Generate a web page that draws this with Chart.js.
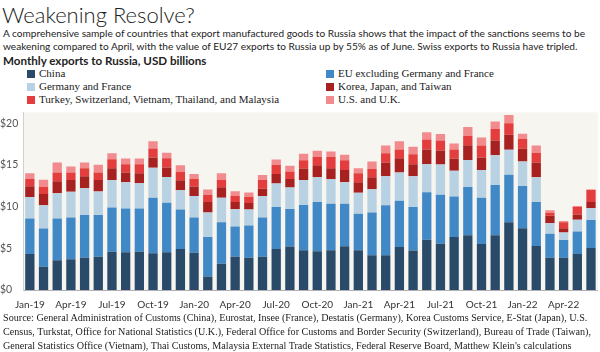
<!DOCTYPE html>
<html>
<head>
<meta charset="utf-8">
<script src="https://cdn.jsdelivr.net/npm/chart.js@4"></script>
<style>
	body { margin: 0; width: 600px; height: 352px; overflow: hidden; background: #fff; color: #222; position: relative; }
	#title { position: absolute; left: 2px; top: 1px; font: 300 22px Lato, sans-serif; color: #222; }
	#subtitle { position: absolute; left: 3px; top: 27px; font: 10.1px Lato, sans-serif; line-height: 13px; white-space: nowrap; }
	#heading { position: absolute; left: 3px; top: 54px; font: bold 11.6px Lato, sans-serif; }
	#legend { position: absolute; left: 27px; top: 67px; display: grid; grid-template-columns: 299px 260px; grid-auto-rows: 13px; font: 11px "Liberation Serif", serif; }
	#legend span.box { display: inline-block; width: 8px; height: 8px; margin-right: 4px; vertical-align: -0.5px; }
	#wrap { position: absolute; left: 0; top: 106px; width: 600px; height: 206px; }
	#source { position: absolute; left: 3px; top: 311px; font: 10.15px "Liberation Serif", serif; line-height: 14px; white-space: nowrap; }
</style>
</head>
<body>
<div id="title">Weakening Resolve?</div>
<div id="subtitle">A comprehensive sample of countries that export manufactured goods to Russia shows that the impact of the sanctions seems to be<br>weakening compared to April, with the value of EU27 exports to Russia up by 55% as of June. Swiss exports to Russia have tripled.</div>
<div id="heading">Monthly exports to Russia, USD billions</div>
<div id="legend"></div>
<div id="wrap"><canvas id="chart"></canvas></div>
<div id="source">Source: General Administration of Customs (China), Eurostat, Insee (France), Destatis (Germany), Korea Customs Service, E-Stat (Japan), U.S.<br>Census, Turkstat, Office for National Statistics (U.K.), Federal Office for Customs and Border Security (Switzerland), Bureau of Trade (Taiwan),<br>General Statistics Office (Vietnam), Thai Customs, Malaysia External Trade Statistics, Federal Reserve Board, Matthew Klein's calculations</div>
<script>
var months = [
	"Jan-19","Feb-19","Mar-19","Apr-19","May-19","Jun-19","Jul-19","Aug-19","Sep-19","Oct-19","Nov-19","Dec-19",
	"Jan-20","Feb-20","Mar-20","Apr-20","May-20","Jun-20","Jul-20","Aug-20","Sep-20","Oct-20","Nov-20","Dec-20",
	"Jan-21","Feb-21","Mar-21","Apr-21","May-21","Jun-21","Jul-21","Aug-21","Sep-21","Oct-21","Nov-21","Dec-21",
	"Jan-22","Feb-22","Mar-22","Apr-22","May-22","Jun-22"
];

var china = [4.33,2.8,3.58,3.7,3.86,3.98,4.57,4.53,4.57,4.41,4.53,4.92,4.45,1.61,3.15,3.98,3.86,3.98,4.92,5.2,4.76,4.65,4.76,5.24,4.76,4.17,4.17,5.16,4.72,6.02,5.55,6.34,6.57,5.51,6.57,8.11,7.4,5.28,3.86,3.86,4.33,5.04];
var eu_other = [4.25,4.56,5.0,5.0,5.12,5.0,5.31,5.23,5.19,6.65,5.94,4.73,4.25,4.73,4.96,3.62,3.86,4.72,5.04,4.52,5.44,5.9,5.59,5.11,4.37,5.12,5.99,5.55,5.24,5.71,5.87,4.88,5.79,5.55,6.03,5.71,5.08,5.27,2.87,2.12,2.68,3.35];
var germany_france = [2.56,2.8,3.03,3.07,3.22,2.82,3.31,3.15,3.04,3.59,3.07,2.32,2.56,2.95,2.95,2.09,1.93,2.56,2.8,2.56,2.99,2.95,2.92,2.56,2.52,2.8,3.46,3.38,3.66,3.35,3.62,3.07,3.23,3.31,3.54,2.99,2.91,2.95,1.26,0.91,1.42,1.45];
var korea_japan_taiwan = [1.3,1.34,1.42,1.42,1.42,1.39,1.41,1.18,1.2,1.22,1.15,1.18,1.14,1.26,1.26,0.86,0.78,0.87,1.14,1.02,1.38,1.46,1.33,1.46,1.26,1.41,1.66,1.7,1.46,1.77,1.69,1.46,1.77,1.5,1.77,1.81,1.54,1.78,0.91,0.51,0.63,0.71];
var turkey_etc = [0.86,0.86,1.06,0.9,0.98,0.9,1.07,0.99,1.08,1.1,1.1,1.02,0.9,0.87,0.91,0.71,0.71,1.06,1.1,0.91,0.98,1.02,1.34,1.18,1.07,0.99,1.1,1.06,1.18,1.18,1.18,1.1,1.14,1.45,1.38,1.38,1.18,1.18,0.35,0.71,0.9,1.46];
var us_uk = [0.7,0.87,1.19,0.71,0.68,0.91,0.71,0.67,0.67,0.86,0.67,0.79,0.6,0.63,0.75,0.59,0.55,0.59,0.63,0.67,0.79,0.71,0.67,0.67,0.62,0.9,0.94,0.98,0.91,0.87,0.79,0.71,1.03,0.95,0.91,0.98,0.63,0.86,0.32,0.16,0.12,0.04];

var y_ticks = [0, 5, 10, 15, 20];

var series = [
	{ label: "China", data: china, color: "#2a4a69" },
	{ label: "EU excluding Germany and France", data: eu_other, color: "#4189c6" },
	{ label: "Germany and France", data: germany_france, color: "#b8d2e3" },
	{ label: "Korea, Japan, and Taiwan", data: korea_japan_taiwan, color: "#a82121" },
	{ label: "Turkey, Switzerland, Vietnam, Thailand, and Malaysia", data: turkey_etc, color: "#e33d3d" },
	{ label: "U.S. and U.K.", data: us_uk, color: "#f28b8d" }
];

//legend i html
var legend_html = "";
series.forEach(function(s){
	legend_html += '<div><span class="box" style="background:'+ s.color +'"></span>'+ s.label +'</div>';
});
document.getElementById("legend").innerHTML = legend_html;

//bakgrund i plotytan
var plot_bg = {
	id: "plot_bg",
	beforeDraw: function(chart){
		var a = chart.chartArea;
		var ctx = chart.ctx;
		ctx.save();
		ctx.fillStyle = "#f7f5f0";
		ctx.fillRect(a.left, a.top, a.right - a.left, a.bottom - a.top);
		ctx.restore();
	}
};

new Chart(document.getElementById("chart"), {
	type: "bar",
	data: {
		labels: months,
		datasets: series.map(function(s){
			return {
				label: s.label,
				data: s.data,
				backgroundColor: s.color,
				borderWidth: 0,
				categoryPercentage: 1,
				barPercentage: 0.68
			};
		})
	},
	options: {
		responsive: true,
		maintainAspectRatio: false,
		animation: false,
		layout: { padding: { top: 3, right: 0, left: 0, bottom: 0 } },
		plugins: {
			legend: { display: false },
			tooltip: { enabled: false }
		},
		scales: {
			x: {
				stacked: true,
				grid: { display: false, drawTicks: false },
				border: { display: true, color: "#b0b0b0" },
				ticks: {
					autoSkip: false,
					maxRotation: 0,
					padding: 9,
					color: "#333",
					font: { family: "Lato", size: 10 },
					callback: function(v, i){ return i % 3 === 0 ? months[i] : ""; }
				},
				afterFit: function(scale){ scale.height = 22; }
			},
			y: {
				stacked: true,
				min: 0,
				max: 21.3,
				grid: { display: false, drawTicks: false },
				border: { display: true, color: "#d0d0d0" },
				ticks: {
					crossAlign: "far",
					padding: 0,
					color: "#555",
					font: { family: "Lato", size: 10.5 },
					callback: function(v){ return "$" + v; }
				},
				afterBuildTicks: function(scale){
					scale.ticks = y_ticks.map(function(v){ return { value: v }; });
				},
				afterFit: function(scale){ scale.width = 23; }
			}
		}
	},
	plugins: [plot_bg]
});
</script>
</body>
</html>
